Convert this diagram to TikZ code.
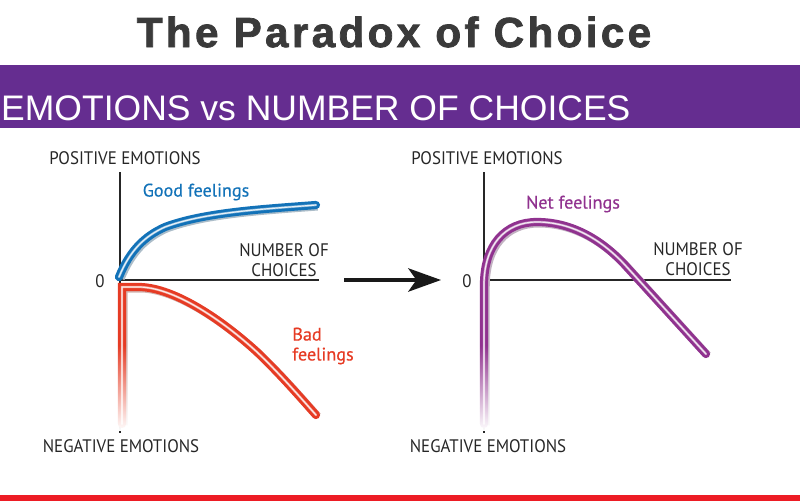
\documentclass[tikz,border=0pt]{standalone}
\usepackage{fontspec}
\usetikzlibrary{arrows.meta,fadings}
\setmainfont{Liberation Sans}
\newfontfamily\titlefont[LetterSpace=8,BoldFeatures={FakeBold=1.8}]{Liberation Sans}
\newfontfamily\labelfont[FakeStretch=.93]{PT Sans}
\newfontfamily\feelfont[FakeBold=.4]{PT Sans}
\definecolor{bannerpurple}{HTML}{652D90}
\definecolor{goodblue}{HTML}{1272B8}
\definecolor{badred}{HTML}{E63B24}
\definecolor{netpurple}{HTML}{90328F}
\definecolor{barred}{HTML}{ED1C24}
\definecolor{titlegray}{HTML}{3A3A3A}
\tikzfading[name=fadedown, top color=transparent!100, bottom color=transparent!0]
\tikzset{
	axisline/.style={draw=black!85, line width=1pt},
	axislabel/.style={font=\labelfont\fontsize{15.5}{17}\selectfont, text=black!85, inner sep=0pt},
	feellabel/.style={font=\feelfont\fontsize{15.5}{17}\selectfont, inner sep=0pt},
	feelcurve/.style={draw=#1, line width=7pt, line cap=round, line join=miter,
		preaction={draw=#1!35!gray!50, line width=7pt, transform canvas={xshift=1.4pt,yshift=-1.2pt}},
		postaction={draw=white!45!#1, line width=2pt},
		postaction={draw=white!90!#1, line width=1pt}},
}
\begin{document}
\begin{tikzpicture}[x=.03cm, y=-.03cm]
	\useasboundingbox (0,0) rectangle (800,501);
	% bars
	\fill[bannerpurple] (0,65) rectangle (800,128);
	\fill[barred] (0,495) rectangle (800,501);
	\node[inner sep=0pt, text=titlegray, font=\titlefont\bfseries\fontsize{36}{40}\selectfont] (title) at (394,32) {The Paradox of Choice};
	\node[anchor=base west, inner sep=0pt, text=white, font=\fontsize{30.3}{36}\selectfont] (banner) at (1,120) {EMOTIONS vs NUMBER OF CHOICES};

	% left chart
	\coordinate (lo) at (120,280);
	\coordinate (ltop) at (120,172);
	\coordinate (lbot) at (120,433);
	\coordinate (lright) at (319,280);
	\draw[axisline] (ltop) -- (lbot);
	\draw[axisline] (lo) -- (lright);
	\draw[feelcurve=goodblue] (119,277) .. controls (130,250) and (145,236) .. (165,227) .. controls (205,212) and (265,209) .. (316,205);
	\draw[feelcurve=badred] (122,424) -- (122,287) -- (140,287) .. controls (175,288) and (222,320) .. (257,352) .. controls (280,374) and (300,397) .. (316,415);
	\fill[white, path fading=fadedown] (110,345) rectangle (136,431);

	\node[axislabel] (lpos) at (125,158) {POSITIVE EMOTIONS};
	\node[axislabel] (lneg) at (121,446) {NEGATIVE EMOTIONS};
	\node[axislabel] (lzero) at (100,281) {0};
	\node[axislabel, align=center] (lnum) at (284,260) {NUMBER OF\\CHOICES};
	\node[feellabel, text=goodblue] (good) at (196,192) {Good feelings};
	\node[feellabel, text=badred, align=left] (bad) at (323,346) {Bad\\feelings};

	% right chart
	\coordinate (ro) at (484,280);
	\coordinate (rtop) at (484,172);
	\coordinate (rbot) at (484,433);
	\coordinate (rright) at (731,280);
	\draw[axisline] (rtop) -- (rbot);
	\draw[axisline] (ro) -- (rright);
	\draw[feelcurve=netpurple] (484,424) -- (484,285) .. controls (484,245) and (505,222) .. (537,222) .. controls (570,222) and (600,238) .. (625,265) -- (706,354);
	\fill[white, path fading=fadedown] (472,345) rectangle (500,431);

	\node[axislabel] (rpos) at (487,158) {POSITIVE EMOTIONS};
	\node[axislabel] (rneg) at (488,446) {NEGATIVE EMOTIONS};
	\node[axislabel] (rzero) at (467,281) {0};
	\node[axislabel, align=center] (rnum) at (698,259) {NUMBER OF\\CHOICES};
	\node[feellabel, text=netpurple] (net) at (573,204) {Net feelings};

	% arrow between charts
	\coordinate (astart) at (344,280);
	\coordinate (aend) at (441,280);
	\draw[line width=2.6pt, black!90, -{Stealth[length=28pt, width=20pt, inset=7pt]}] (astart) -- (aend);
\end{tikzpicture}
\end{document}
